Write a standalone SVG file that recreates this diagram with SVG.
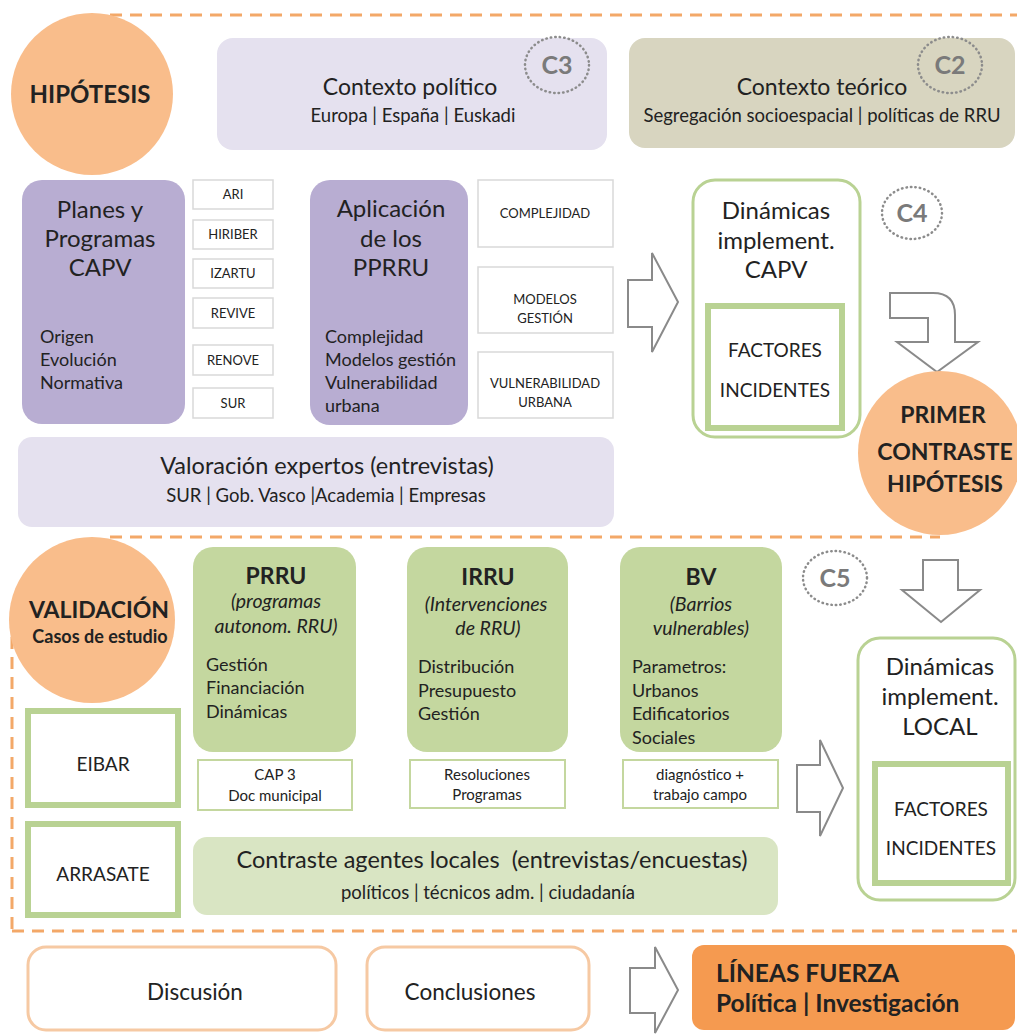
<svg xmlns="http://www.w3.org/2000/svg" width="1017" height="1034" viewBox="0 0 1017 1034">
  <defs>
    <style>
      text { font-family: Lato, "Liberation Sans", sans-serif; fill: #222222; }
      .c { text-anchor: middle; }
      .b { font-weight: bold; }
      .i { font-style: italic; }
      .h { font-size: 24px; }
      .m { font-size: 23px; }
      .s { font-size: 18.5px; }
      .l { font-size: 18px; }
      .f { font-size: 19px; }
      .it { font-size: 19.5px; }
      .src { font-size: 15px; }
      .tag13 { font-size: 13px; }
      .dash { fill: none; stroke: #f3a868; stroke-width: 3; stroke-dasharray: 12 8; }
      .orb { fill: #f9bd8b; }
      .lav { fill: #e5e1ef; }
      .khaki { fill: #d8d5c0; }
      .purple { fill: #b8add2; }
      .green { fill: #c4d79f; }
      .lgreen { fill: #d9e5c3; }
      .tag { fill: #ffffff; stroke: #d9d9d9; stroke-width: 1.5; }
      .gtag { fill: #ffffff; stroke: #c4d79f; stroke-width: 2; }
      .gframe { fill: #ffffff; stroke: #b9d293; stroke-width: 3; }
      .gthick { fill: #ffffff; stroke: #b9d293; stroke-width: 6; }
      .oframe { fill: #ffffff; stroke: #f6c9a3; stroke-width: 3; }
      .chap { fill: none; stroke: #8c8c8c; stroke-width: 2.5; stroke-dasharray: 0.5 4; stroke-linecap: round; }
      .chapt { font-size: 25px; font-weight: bold; fill: #7a7a7a; text-anchor: middle; }
      .arrow { fill: #ffffff; stroke: #8a8a8a; stroke-width: 2; stroke-linejoin: miter; }
    </style>
  </defs>

  <!-- phase separators -->
  <g id="separators">
    <path class="dash" d="M110,15 H1017"/>
    <path class="dash" d="M110,537 H940"/>
    <path class="dash" d="M12,637 V930"/>
    <path class="dash" d="M12,931 H1017"/>
  </g>

  <!-- connectors (block arrows) -->
  <g id="connectors">
    <path class="arrow" d="M628,280 H652 V253 L678,302 L652,352 V327 H628 Z"/>
    <path class="arrow" d="M890,293 H933 Q955,293 955,315 V342 H978 L937,372 L897,342 H928 V318 H890 Z"/>
    <path class="arrow" d="M923,560 H958 V590 H980 L941,622 L902,590 H923 Z"/>
    <path class="arrow" d="M797,765 H820 V740 L843,788 L820,836 V812 H797 Z"/>
    <path class="arrow" d="M630,968 H655 V947 L678,990 L655,1033 V1013 H630 Z"/>
  </g>

  <!-- hypothesis phase -->
  <g id="hipotesis">
    <circle class="orb" cx="92" cy="94" r="81"/>
    <text class="c b" x="90" y="103" font-size="24">HIPÓTESIS</text>
  </g>

  <g id="contexto-politico">
    <rect class="lav" x="217" y="38" width="390" height="112" rx="16"/>
    <text class="c m" x="410" y="95">Contexto político</text>
    <text class="c s" x="413" y="122">Europa | España | Euskadi</text>
    <ellipse class="chap" cx="557" cy="65" rx="32" ry="28"/>
    <text class="chapt" x="557" y="74">C3</text>
  </g>

  <g id="contexto-teorico">
    <rect class="khaki" x="629" y="38" width="386" height="110" rx="16"/>
    <text class="c m" x="822" y="95">Contexto teórico</text>
    <text class="c s" x="822" y="122">Segregación socioespacial | políticas de RRU</text>
    <ellipse class="chap" cx="950" cy="65" rx="32" ry="28"/>
    <text class="chapt" x="950" y="74">C2</text>
  </g>

  <g id="planes-programas">
    <rect class="purple" x="22" y="180" width="163" height="244" rx="20"/>
    <text class="c h" x="100" y="218">Planes y</text>
    <text class="c h" x="100" y="247">Programas</text>
    <text class="c h" x="100" y="276">CAPV</text>
    <text class="l" x="40" y="343">Origen</text>
    <text class="l" x="40" y="366">Evolución</text>
    <text class="l" x="40" y="389">Normativa</text>
  </g>

  <g id="programas-lista">
    <rect class="tag" x="193" y="180" width="80" height="29"/>
    <text class="c tag13" x="233" y="199">ARI</text>
    <rect class="tag" x="193" y="220" width="80" height="29"/>
    <text class="c tag13" x="233" y="239">HIRIBER</text>
    <rect class="tag" x="193" y="259" width="80" height="29"/>
    <text class="c tag13" x="233" y="278">IZARTU</text>
    <rect class="tag" x="193" y="298" width="80" height="30"/>
    <text class="c tag13" x="233" y="318">REVIVE</text>
    <rect class="tag" x="193" y="345" width="80" height="30"/>
    <text class="c tag13" x="233" y="365">RENOVE</text>
    <rect class="tag" x="193" y="388" width="80" height="30"/>
    <text class="c tag13" x="233" y="408">SUR</text>
  </g>

  <g id="aplicacion-ppprru">
    <rect class="purple" x="310" y="180" width="158" height="245" rx="20"/>
    <text class="c h" x="391" y="217">Aplicación</text>
    <text class="c h" x="391" y="247">de los</text>
    <text class="c h" x="391" y="276">PPRRU</text>
    <text class="l" x="325" y="343">Complejidad</text>
    <text class="l" x="325" y="366">Modelos gestión</text>
    <text class="l" x="325" y="389">Vulnerabilidad</text>
    <text class="l" x="325" y="412">urbana</text>
  </g>

  <g id="criterios">
    <rect class="tag" x="478" y="180" width="135" height="67"/>
    <text class="c tag13" x="545" y="218">COMPLEJIDAD</text>
    <rect class="tag" x="478" y="267" width="135" height="66"/>
    <text class="c tag13" x="545" y="304">MODELOS</text>
    <text class="c tag13" x="545" y="323">GESTIÓN</text>
    <rect class="tag" x="478" y="352" width="135" height="66"/>
    <text class="c tag13" x="545" y="388">VULNERABILIDAD</text>
    <text class="c tag13" x="545" y="407">URBANA</text>
  </g>

  <g id="dinamicas-capv">
    <rect class="gframe" x="693" y="180" width="167" height="257" rx="22"/>
    <text class="c h" x="776" y="219">Dinámicas</text>
    <text class="c h" x="776" y="249">implement.</text>
    <text class="c h" x="776" y="278">CAPV</text>
    <rect class="gthick" x="708" y="306" width="134" height="122"/>
    <text class="c f" x="775" y="357">FACTORES</text>
    <text class="c f" x="775" y="397">INCIDENTES</text>
    <ellipse class="chap" cx="912" cy="213" rx="30" ry="26"/>
    <text class="chapt" x="912" y="222">C4</text>
  </g>

  <g id="primer-contraste">
    <circle class="orb" cx="940" cy="453" r="82"/>
    <text class="c b" x="943" y="423" font-size="23">PRIMER</text>
    <text class="c b" x="945" y="460" font-size="23">CONTRASTE</text>
    <text class="c b" x="945" y="492" font-size="23">HIPÓTESIS</text>
  </g>

  <g id="valoracion-expertos">
    <rect class="lav" x="18" y="437" width="596" height="90" rx="14"/>
    <text class="c" x="327" y="474" font-size="23.5">Valoración expertos (entrevistas)</text>
    <text class="c s" x="326" y="502">SUR | Gob. Vasco |Academia | Empresas</text>
  </g>

  <!-- validation phase -->
  <g id="validacion">
    <circle class="orb" cx="92" cy="620" r="83"/>
    <text class="c b" x="99" y="618" font-size="23">VALIDACIÓN</text>
    <text class="c b" x="100" y="643" font-size="18">Casos de estudio</text>
  </g>

  <g id="eibar">
    <rect class="gthick" x="28" y="711" width="150" height="94"/>
    <text class="c f" x="103" y="771">EIBAR</text>
  </g>

  <g id="arrasate">
    <rect class="gthick" x="28" y="824" width="150" height="91"/>
    <text class="c f" x="103" y="881">ARRASATE</text>
  </g>

  <g id="prru">
    <rect class="green" x="193" y="547" width="163" height="205" rx="20"/>
    <text class="c b m" x="276" y="584">PRRU</text>
    <text class="c i it" x="276" y="608">(programas</text>
    <text class="c i it" x="276" y="633">autonom. RRU)</text>
    <text class="l" x="206" y="671">Gestión</text>
    <text class="l" x="206" y="694">Financiación</text>
    <text class="l" x="206" y="718">Dinámicas</text>
  </g>
  <g id="prru-fuentes">
    <rect class="gtag" x="198" y="760" width="154" height="50"/>
    <text class="c src" x="275" y="780">CAP 3</text>
    <text class="c src" x="275" y="801">Doc municipal</text>
  </g>

  <g id="irru">
    <rect class="green" x="407" y="547" width="161" height="205" rx="20"/>
    <text class="c b m" x="488" y="585">IRRU</text>
    <text class="c i it" x="486" y="611">(Intervenciones</text>
    <text class="c i it" x="488" y="635">de RRU)</text>
    <text class="l" x="418" y="673">Distribución</text>
    <text class="l" x="418" y="697">Presupuesto</text>
    <text class="l" x="418" y="720">Gestión</text>
  </g>
  <g id="irru-fuentes">
    <rect class="gtag" x="410" y="760" width="155" height="48"/>
    <text class="c src" x="487" y="780">Resoluciones</text>
    <text class="c src" x="487" y="800">Programas</text>
  </g>

  <g id="bv">
    <rect class="green" x="620" y="547" width="162" height="205" rx="20"/>
    <text class="c b m" x="701" y="585">BV</text>
    <text class="c i it" x="701" y="611">(Barrios</text>
    <text class="c i it" x="701" y="635">vulnerables)</text>
    <text class="l" x="632" y="673">Parametros:</text>
    <text class="l" x="632" y="697">Urbanos</text>
    <text class="l" x="632" y="720">Edificatorios</text>
    <text class="l" x="632" y="744">Sociales</text>
  </g>
  <g id="bv-fuentes">
    <rect class="gtag" x="623" y="760" width="155" height="48"/>
    <text class="c src" x="700" y="780">diagnóstico +</text>
    <text class="c src" x="700" y="800">trabajo campo</text>
  </g>

  <g id="contraste-local">
    <rect class="lgreen" x="193" y="837" width="585" height="78" rx="14"/>
    <text class="c" x="492" y="868" font-size="23.5" xml:space="preserve">Contraste agentes locales  (entrevistas/encuestas)</text>
    <text class="c s" x="488" y="899">políticos | técnicos adm. | ciudadanía</text>
  </g>

  <g id="dinamicas-local">
    <rect class="gframe" x="858" y="638" width="157" height="262" rx="22"/>
    <text class="c h" x="940" y="675">Dinámicas</text>
    <text class="c h" x="940" y="705">implement.</text>
    <text class="c h" x="940" y="735">LOCAL</text>
    <rect class="gthick" x="875" y="764" width="133" height="119"/>
    <text class="c f" x="941" y="816">FACTORES</text>
    <text class="c f" x="941" y="855">INCIDENTES</text>
    <ellipse class="chap" cx="835" cy="578" rx="32" ry="27"/>
    <text class="chapt" x="835" y="587">C5</text>
  </g>

  <!-- closing phase -->
  <g id="discusion">
    <rect class="oframe" x="28" y="947" width="308" height="83" rx="18"/>
    <text class="c" x="195" y="1000" font-size="22.5">Discusión</text>
  </g>

  <g id="conclusiones">
    <rect class="oframe" x="367" y="947" width="222" height="83" rx="18"/>
    <text class="c" x="470" y="1000" font-size="22.5">Conclusiones</text>
  </g>

  <g id="lineas-fuerza">
    <rect x="692" y="945" width="323" height="85" rx="12" fill="#f59a50"/>
    <text class="b" x="716" y="982" font-size="24.5">LÍNEAS FUERZA</text>
    <text class="b" x="716" y="1012" font-size="24.5">Política | Investigación</text>
  </g>
</svg>
